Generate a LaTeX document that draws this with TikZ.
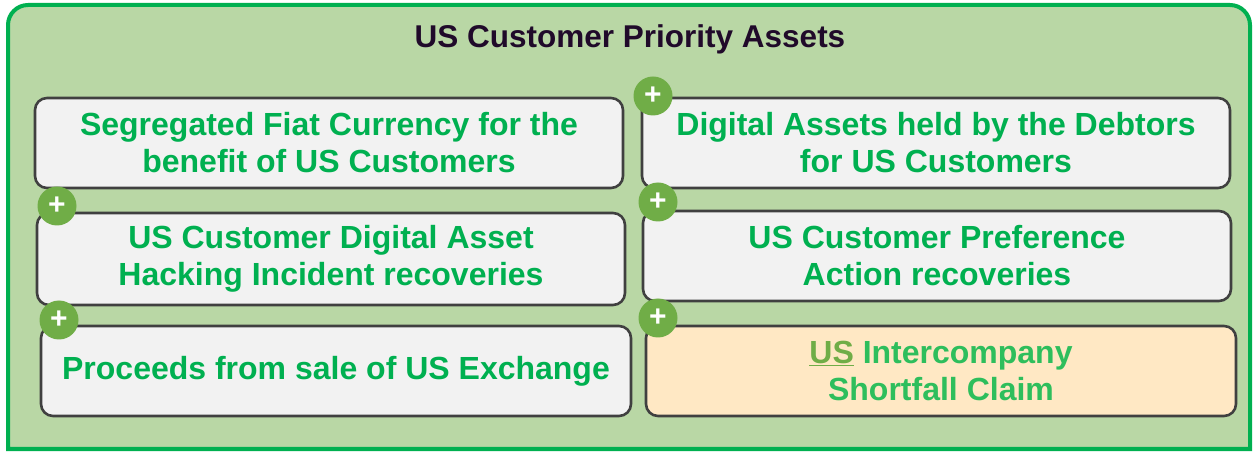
\documentclass[tikz,border=0pt]{standalone}
\usepackage{fontspec}
\setmainfont{Liberation Sans}
\usepackage{xcolor}
\usetikzlibrary{positioning}

\definecolor{framegreen}{HTML}{00B050}
\definecolor{panelgreen}{HTML}{B9D7A5}
\definecolor{boxgray}{HTML}{F2F2F2}
\definecolor{boxline}{HTML}{404040}
\definecolor{assetgreen}{HTML}{00B050}
\definecolor{plusgreen}{HTML}{70AD47}
\definecolor{claimfill}{HTML}{FFE8C4}
\definecolor{claimtext}{HTML}{2EBE5C}
\definecolor{titlecol}{HTML}{200A2A}

\begin{document}
\begin{tikzpicture}[
    x=1pt, y=-1pt,
    asset/.style={rectangle, rounded corners=12pt, draw=boxline, line width=2.6pt,
      fill=boxgray, minimum width=588pt, minimum height=90pt, align=center,
      text=assetgreen, font=\bfseries\fontsize{32}{37}\selectfont, inner sep=0pt},
    plus/.style={circle, fill=plusgreen, minimum size=39pt, inner sep=0pt,
      text=white, font=\bfseries\fontsize{30}{30}\selectfont}
]
\useasboundingbox (0,0) rectangle (1254,454);

% outer panel
\draw[framegreen, line width=4pt, fill=panelgreen]
  (8,449) -- (8,25) arc[start angle=180, end angle=270, radius=20]
  -- (1230,5) arc[start angle=270, end angle=360, radius=20] -- (1250,449) -- cycle;

\node[text=titlecol, font=\bfseries\fontsize{31.5}{37}\selectfont] (title) at (630,39) {US Customer Priority Assets};

\node[asset] (seg) at (329,143) {Segregated Fiat Currency for the\\benefit of US Customers};
\node[asset] (held) at (936,143) {Digital Assets held by the Debtors\\for US Customers};
\node[asset, minimum height=92pt] (hack) at (331,259) {US Customer Digital Asset\\Hacking Incident recoveries};
\node[asset] (pref) at (937,256) {US Customer Preference\\Action recoveries};
\node[asset, minimum width=590pt] (sale) at (336,371) {Proceeds from sale of US Exchange};
\node[asset, fill=claimfill, text=claimtext, minimum width=590pt] (claim) at (941,371)
  {\textcolor{plusgreen}{\underline{US}} Intercompany\\Shortfall Claim};

\node[plus] (p1) at (653,96) {+};
\node[plus] (p2) at (57,206) {+};
\node[plus] (p3) at (658,202) {+};
\node[plus] (p4) at (59,320) {+};
\node[plus] (p5) at (658,318) {+};

\end{tikzpicture}
\end{document}
